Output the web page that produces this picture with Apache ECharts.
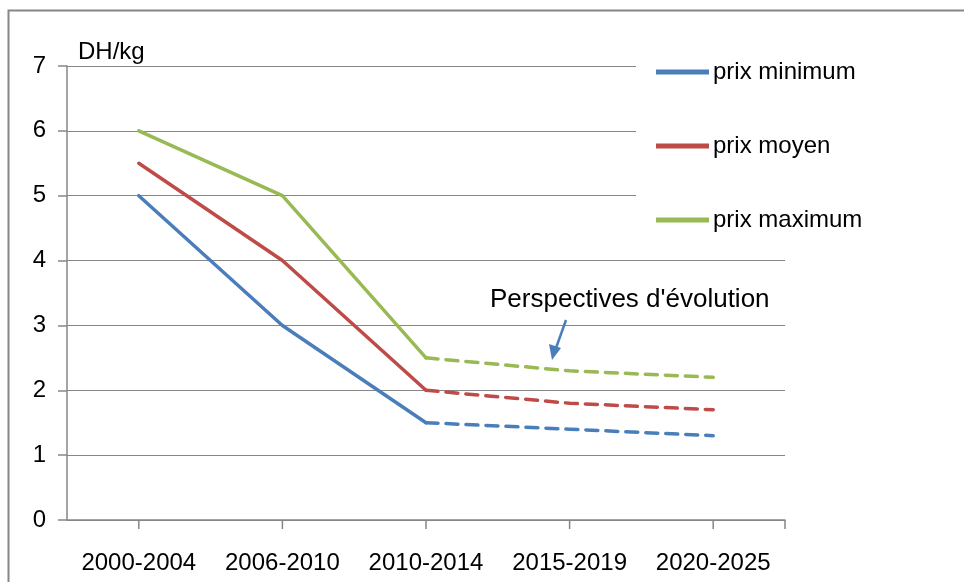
<!DOCTYPE html>
<html><head><meta charset="utf-8">
<script src="https://cdn.jsdelivr.net/npm/echarts@6/dist/echarts.min.js"></script>
<style>html,body{margin:0;padding:0;background:#fff}#c{width:964px;height:582px}</style>
</head><body><div id="c"></div>
<script>
var categories = ['2000-2004','2006-2010','2010-2014','2015-2019','2020-2025'];
var prixMinimum = [5, 3, 1.5, 1.4, 1.3];
var prixMoyen = [5.5, 4, 2, 1.8, 1.7];
var prixMaximum = [6, 5, 2.5, 2.3, 2.2];
var seriesNames = ['prix minimum','prix moyen','prix maximum'];
var colors = ['#4A7EBB','#BE4B48','#98B954'];
var lastObserved = 2; // index where the projection (dashed) starts
var yTicks = [0,1,2,3,4,5,6,7];

var FONT = '"Liberation Sans", Arial, sans-serif';
var chart = echarts.init(document.getElementById('c'), null, {renderer:'canvas'});
function part(arr, solid){
  return arr.map(function(v,i){ return solid ? (i<=lastObserved? v : null) : (i>=lastObserved? v : null); });
}
var allData = [prixMinimum, prixMoyen, prixMaximum];
var series = [];
allData.forEach(function(d,k){
  series.push({name:seriesNames[k], type:'line', data:part(d,true), symbol:'none', color:colors[k],
    lineStyle:{width:3.5,color:colors[k],cap:'round',join:'round'}, z:3, animation:false});
});
allData.forEach(function(d,k){
  series.push({name:seriesNames[k], type:'line', data:part(d,false), symbol:'none', color:colors[k],
    lineStyle:{width:3.5,color:colors[k],type:[12,8],cap:'round'}, z:3, animation:false});
});
var baseGraphics = [
  {type:'rect', left:6, top:8, shape:{width:1000,height:620}, style:{fill:'none',stroke:'#868686',lineWidth:2}, silent:true, z:-10},
  {type:'text', left:490, top:287, style:{text:"Perspectives d'évolution", fontSize:26, fontFamily:FONT, fill:'#000'}, z:20},
  {type:'line', shape:{x1:566,y1:320,x2:556,y2:348}, style:{stroke:'#4A7EBB',lineWidth:2.5}, z:20},
  {type:'polygon', shape:{points:[[552,360],[549,344],[561,348]]}, style:{fill:'#4A7EBB'}, z:20}
];
chart.setOption({
  animation:false,
  textStyle:{fontFamily:FONT},
  title:{text:'DH/kg', left:73, top:35, textStyle:{fontFamily:FONT,fontSize:24,fontWeight:'normal',color:'#000'}},
  grid:{left:67, top:66, width:718, height:454, containLabel:false},
  legend:{orient:'vertical', left:636, top:46, padding:[14,60,14,20], backgroundColor:'#fff',
    data:seriesNames, itemWidth:53, itemHeight:5, itemGap:50,
    icon:'path://M0,0 L53,0 L53,5 L0,5 Z',
    textStyle:{fontFamily:FONT,fontSize:24,color:'#000',lineHeight:20,padding:[0,0,0,-1]}, z:10, selectedMode:false},
  xAxis:{type:'category', data:categories, boundaryGap:true,
    axisLine:{lineStyle:{color:'#868686',width:1.5}},
    axisTick:{show:false},
    axisLabel:{interval:0,fontFamily:FONT,fontSize:24,color:'#000',margin:31}},
  yAxis:{type:'value', min:0, max:7, interval:1,
    axisLine:{show:true,lineStyle:{color:'#868686',width:1.5}},
    axisTick:{show:true,length:9,lineStyle:{color:'#868686',width:1.5}},
    splitLine:{lineStyle:{color:'#868686',width:1.2}},
    axisLabel:{fontFamily:FONT,fontSize:24,color:'#000',margin:21,
      formatter:function(v){ return yTicks.indexOf(v)>=0 ? String(v) : ''; }}},
  series:series,
  graphic:baseGraphics
});
// x-axis ticks at category centres and at axis end, positioned through the axis scale
var y0 = chart.convertToPixel({yAxisIndex:0}, 0);
var tickXs = categories.map(function(c){ return chart.convertToPixel({xAxisIndex:0}, c); });
tickXs.push(67+718);
var g = baseGraphics.slice();
tickXs.forEach(function(x){
  g.push({type:'line', shape:{x1:x,y1:y0,x2:x,y2:y0+9}, style:{stroke:'#868686',lineWidth:1.5}, z:5});
});
chart.setOption({graphic:g}, {replaceMerge:['graphic']});
</script></body></html>
